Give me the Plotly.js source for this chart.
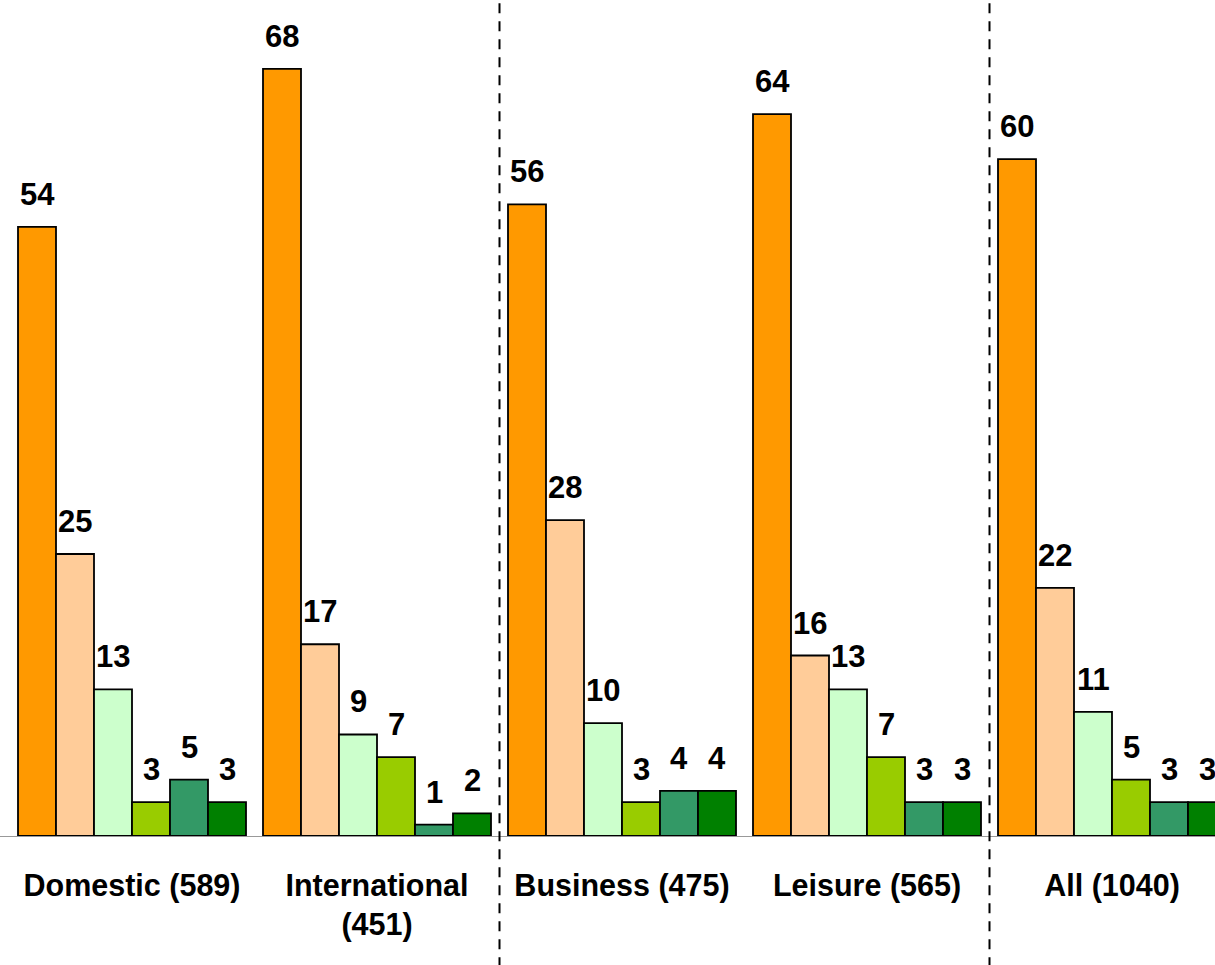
<!DOCTYPE html>
<html>
<head>
<meta charset="utf-8">
<script src="https://cdn.plot.ly/plotly-3.0.1.min.js"></script>
<style>html,body{margin:0;padding:0;background:#fff;}#chart{width:1215px;height:965px;}</style>
</head>
<body>
<div id="chart"></div>
<script>
const categories = ["Domestic (589)", "International<br>(451)", "Business (475)", "Leisure (565)", "All (1040)"];
const series1 = [54, 68, 56, 64, 60];
const series2 = [25, 17, 28, 16, 22];
const series3 = [13, 9, 10, 13, 11];
const series4 = [3, 7, 3, 7, 5];
const series5 = [5, 1, 4, 3, 3];
const series6 = [3, 2, 4, 3, 3];
const seriesNames = ["Series 1", "Series 2", "Series 3", "Series 4", "Series 5", "Series 6"];
const seriesColors = ["#FF9900", "#FFCC99", "#CCFFCC", "#99CC00", "#339966", "#008000"];

const allSeries = [series1, series2, series3, series4, series5, series6];
const BARGAP = 17 / 245;
const FONT = "Arial, 'Liberation Sans', sans-serif";

const traces = allSeries.map((vals, i) => ({
  type: "bar",
  name: seriesNames[i],
  x: categories,
  y: vals,
  marker: { color: seriesColors[i], line: { color: "#000", width: 1.8 } },
  hoverinfo: "x+y"
}));

const nS = allSeries.length;
const w = (1 - BARGAP) / nS;
const annotations = [];
allSeries.forEach((vals, i) => {
  vals.forEach((v, j) => {
    annotations.push({
      x: j - (1 - BARGAP) / 2 + w * (i + 0.5),
      y: v,
      xref: "x", yref: "y",
      text: String(v),
      showarrow: false,
      yanchor: "bottom",
      yshift: 13,
      font: { family: FONT, size: 31, color: "#000", weight: "bold" }
    });
  });
});

const shapes = [1.5, 3.5].map(xv => ({
  type: "line", xref: "x", yref: "paper",
  x0: xv, x1: xv, y0: -0.2, y1: 1.02,
  line: { color: "#000", width: 2, dash: "10px,8px" }
}));

const layout = {
  width: 1215, height: 965,
  margin: { l: 0, r: 0, t: 0, b: 129 },
  paper_bgcolor: "#fff", plot_bgcolor: "#fff",
  barmode: "group", bargap: BARGAP, bargroupgap: 0,
  showlegend: false,
  xaxis: {
    type: "category",
    range: [-132 / 245, -132 / 245 + 1215 / 245],
    showline: true, linecolor: "#999", linewidth: 1,
    ticks: "", showgrid: false, zeroline: false,
    tickfont: { family: FONT, size: 30.5, color: "#000", weight: "bold" },
    ticklabelstandoff: 22
  },
  yaxis: {
    range: [0, 836 / 11.28],
    visible: false, showgrid: false, zeroline: false
  },
  annotations: annotations,
  shapes: shapes
};

Plotly.newPlot("chart", traces, layout, { displayModeBar: false, staticPlot: true });
</script>
</body>
</html>
